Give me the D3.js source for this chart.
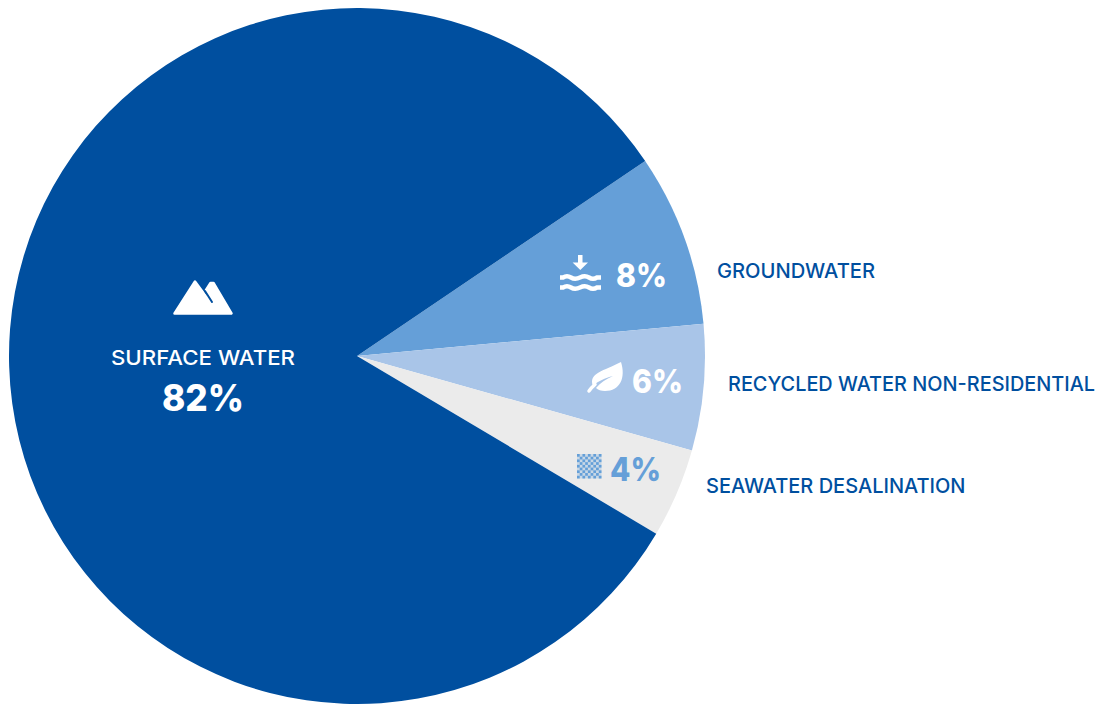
<!DOCTYPE html>
<html><head><meta charset="utf-8">
<script src="https://cdn.jsdelivr.net/npm/d3@7"></script>
<style>html,body{margin:0;padding:0;background:#fff}svg{display:block}text{font-family:Inter,"Noto Sans",sans-serif}</style>
</head><body><svg id="c" width="1098" height="704"></svg>
<script>
const categories = ["GROUNDWATER","RECYCLED WATER NON-RESIDENTIAL","SEAWATER DESALINATION","SURFACE WATER"];
const shareLabels = [8,6,4,82];
const drawnShares = [8,5.85,4.15,82];
const sliceColors = ["#659fd8","#a9c5e8","#ebebeb","#004f9f"];
const pctColors = ["#fff","#fff","#659fd8","#fff"];

const W=1098,H=704,cx=357,cy=356,R=348;
const svg=d3.select("#c");
const start=55.9*Math.PI/180;
const pie=d3.pie().value(d=>d).sort(null).startAngle(start).endAngle(start+2*Math.PI);
const arc=d3.arc().innerRadius(0).outerRadius(R);
const g=svg.append("g").attr("transform",`translate(${cx},${cy})`);
g.selectAll("path").data(pie(drawnShares)).join("path").attr("d",arc).attr("fill",(d,i)=>sliceColors[i]);

// text layout
const nameLayout=[{x:717,y:278,w:158},{x:728,y:391,w:367},{x:706,y:492.5,w:259.5},{x:111,y:365,w:184}];
const pctLayout=[{x:616,y:286.5,w:51,s:33},{x:632,y:392.5,w:51,s:33},{x:610,y:481,w:51,s:33},{x:162,y:411,w:82,s:37}];
svg.selectAll("text.name").data(categories).join("text").attr("class","name")
  .attr("x",(d,i)=>nameLayout[i].x).attr("y",(d,i)=>nameLayout[i].y)
  .attr("textLength",(d,i)=>nameLayout[i].w).attr("lengthAdjust","spacingAndGlyphs")
  .attr("font-size",20).attr("font-weight",500)
  .attr("fill",(d,i)=>i==3?"#fff":"#004f9f").text(d=>d);
svg.selectAll("text.pct").data(shareLabels).join("text").attr("class","pct")
  .attr("x",(d,i)=>pctLayout[i].x).attr("y",(d,i)=>pctLayout[i].y)
  .attr("textLength",(d,i)=>pctLayout[i].w).attr("lengthAdjust","spacingAndGlyphs")
  .attr("font-size",(d,i)=>pctLayout[i].s).attr("font-weight",800)
  .attr("fill",(d,i)=>pctColors[i]).text(d=>d+"%");

// icons
// mountain
svg.append("path").attr("fill","#fff").attr("stroke","#fff").attr("stroke-width",2.5).attr("stroke-linejoin","round")
 .attr("d","M174.5 313.5 L195 281.5 L213 306 L206 290 L210.5 283 L213.5 283 L231.5 313.5 Z");
svg.append("path").attr("fill","none").attr("stroke","#004f9f").attr("stroke-width",2).attr("stroke-linecap","round").attr("d","M205 291 L212 302");
// groundwater
svg.append("path").attr("fill","#fff").attr("d","M578 255 h4.5 v7.5 h5.5 l-7.7 7.5 l-7.7 -7.5 h5.4 z");
const wave=(y)=>`M560 ${y} h3 q4 -2.4 8 0 t9 0 t9 0 t8 0 h4`;
svg.append("g").attr("fill","none").attr("stroke","#fff").selectAll("path").data([277.5,287.5]).join("path").attr("stroke-width",4.4).attr("d",wave);
// leaf
svg.append("path").attr("fill","#fff").attr("d","M621 362 C626 378 620 391 605 391 C601 391 598 390 596 388 C600 383 606 379 613 376 C605 378 598 381 593 386 C588 373 604 371 621 362 Z");
svg.append("path").attr("fill","none").attr("stroke","#fff").attr("stroke-width",3.5).attr("stroke-linecap","round").attr("d","M589 391 Q591.5 387.5 595 384.5");
// checker
const cell=2.72,cols=d3.range(9);
svg.append("g").selectAll("rect").data(cols.flatMap(a=>cols.map(b=>[a,b])).filter(d=>(d[0]+d[1])%2==0)).join("rect")
 .attr("x",d=>577+d[0]*cell).attr("y",d=>454+d[1]*cell).attr("width",cell).attr("height",cell).attr("fill","#659fd8");
svg.append("rect").attr("x",577).attr("y",454).attr("width",24.5).attr("height",24.5).attr("fill","#659fd8").attr("opacity",0.25);
</script></body></html>
